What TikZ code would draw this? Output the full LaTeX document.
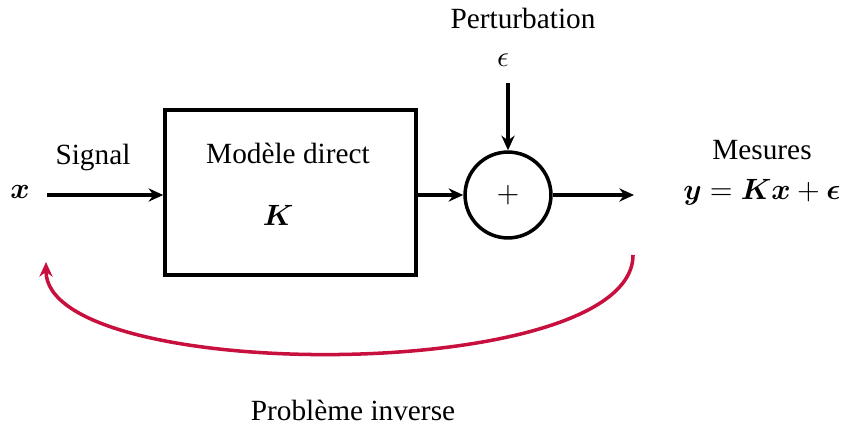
\documentclass[tikz,border=0pt]{standalone}
\usepackage{amsmath}
\usepackage{fontspec}
\setmainfont{Liberation Serif}
\usetikzlibrary{arrows.meta}
\definecolor{invred}{RGB}{200,16,62}
\tikzset{
  bloc/.style={draw, line width=1.2pt, minimum width=3.01cm, minimum height=1.98cm, inner sep=0pt},
  somme/.style={draw, circle, line width=1.2pt, minimum size=1.03cm, inner sep=0pt},
  fleche/.style={line width=1.2pt, -{Stealth[length=5pt, width=4.5pt]}}
}
\begin{document}
\begin{tikzpicture}[x=0.012cm, y=-0.012cm]
    \useasboundingbox (0,0) rectangle (845,425);

    % Blocks
    \node[bloc] (K) at (290.5,192.5) {};
    \node (Ktitle) at (288,153) {Modèle direct};
    \node (Kmat) at (278,215) {$\boldsymbol{K}$};
    \node[somme] (S) at (508,195) {$+$};

    % Labels
    \node (x) at (20,192) {$\boldsymbol{x}$};
    \node (sig) at (93,157) {Signal};
    \node (pert) at (523,18) {Perturbation};
    \node (eps) at (503,60) {$\epsilon$};
    \node (mes) at (762,150) {Mesures};
    \node (y) at (762,192) {$\boldsymbol{y} = \boldsymbol{K}\boldsymbol{x} + \boldsymbol{\epsilon}$};
    \node (inv) at (353,410) {Problème inverse};

    % Signal path
    \coordinate (xin) at (47,195);
    \coordinate (epsin) at (508,83);
    \coordinate (yout) at (634,195);
    \draw[fleche] (xin) -- (K.west |- xin);
    \draw[fleche] (K.east |- S) -- (S.west);
    \draw[fleche] (epsin) -- (S.north);
    \draw[fleche] (S.east) -- (yout);

    % Inverse problem
    \coordinate (invA) at (633,255);
    \coordinate (invB) at (46,262);
    \draw[invred, line width=1.2pt, -{Stealth[length=5pt, width=4.5pt]}]
        (invA) .. controls (633,385) and (46,385) .. (invB);
\end{tikzpicture}
\end{document}
